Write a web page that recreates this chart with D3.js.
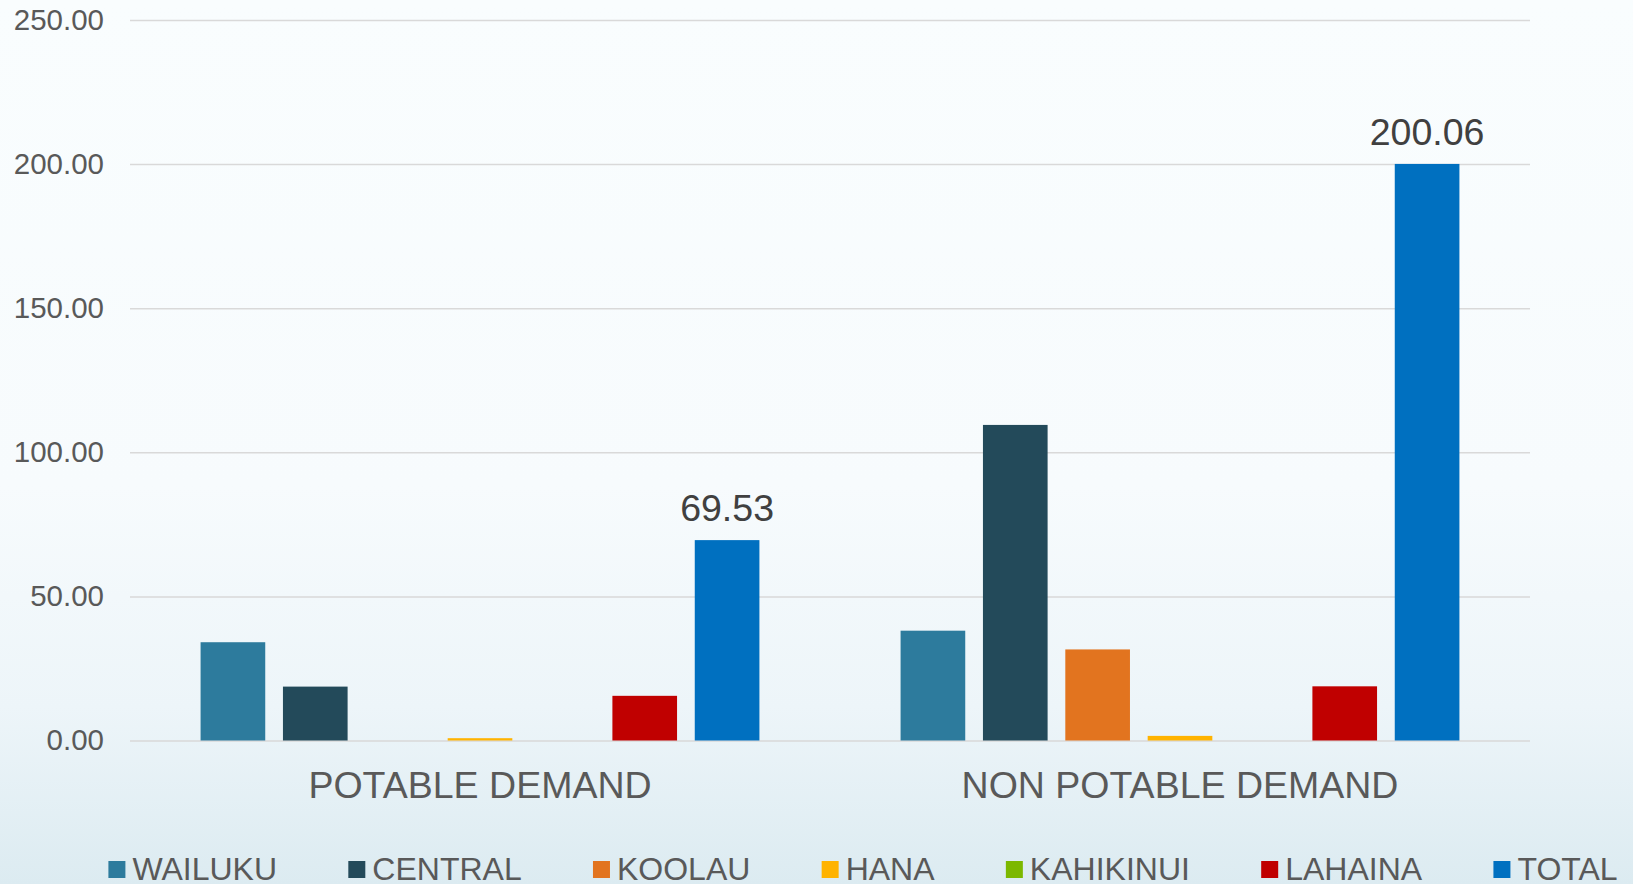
<!DOCTYPE html>
<html>
<head>
<meta charset="utf-8">
<script src="https://cdn.jsdelivr.net/npm/d3@7"></script>
<style>
  html, body { margin: 0; padding: 0; }
  body { width: 1633px; height: 884px; overflow: hidden; }
  svg { display: block; font-family: "Liberation Sans", Arial, sans-serif; }
</style>
</head>
<body>
<svg id="chart" width="1633" height="884"></svg>
<script>
const categories = ["POTABLE DEMAND", "NON POTABLE DEMAND"];
const seriesNames = ["WAILUKU", "CENTRAL", "KOOLAU", "HANA", "KAHIKINUI", "LAHAINA", "TOTAL"];
const seriesColors = ["#2D7B9D", "#234A5A", "#E2741F", "#FFB300", "#7CB800", "#C00000", "#0070C0"];
const wailuku   = [34.1, 38.1];
const central   = [18.7, 109.5];
const koolau    = [0, 31.6];
const hana      = [0.8, 1.6];
const kahikinui = [0, 0];
const lahaina   = [15.5, 18.8];
const total     = [69.53, 200.06];
const yTicks = [0, 50, 100, 150, 200, 250];
const seriesValues = [wailuku, central, koolau, hana, kahikinui, lahaina, total];

const svg = d3.select("#chart");
const W = 1633, H = 884;

// background gradient
const defs = svg.append("defs");
const grad = defs.append("linearGradient").attr("id", "bg").attr("x1", 0).attr("y1", 0).attr("x2", 0).attr("y2", 1);
grad.append("stop").attr("offset", "0%").attr("stop-color", "#F9FDFE");
grad.append("stop").attr("offset", "55%").attr("stop-color", "#F7FBFD");
grad.append("stop").attr("offset", "80%").attr("stop-color", "#EDF5F9");
grad.append("stop").attr("offset", "100%").attr("stop-color", "#DCEBF1");
svg.append("rect").attr("width", W).attr("height", H).attr("fill", "url(#bg)");

const plot = { left: 130, right: 1530, top: 20, bottom: 740.5 };

const y = d3.scaleLinear().domain([0, 250]).range([plot.bottom, plot.top]);
const x0 = d3.scaleBand().domain(categories).range([plot.left, plot.right]).padding(0);
const x1 = d3.scaleBand().domain(seriesNames).range([0, x0.bandwidth()])
  .paddingInner(0.215).paddingOuter(0.857);

// gridlines + y labels via axis
const yAxis = d3.axisLeft(y).tickValues(yTicks).tickFormat(d3.format(".2f"))
  .tickSize(-(plot.right - plot.left)).tickPadding(26);
const gy = svg.append("g").attr("transform", `translate(${plot.left},0)`).call(yAxis);
gy.select(".domain").remove();
gy.selectAll(".tick line").attr("stroke", "#D9D9D9").attr("stroke-width", 1.5);
gy.selectAll(".tick text").attr("fill", "#595959").attr("font-size", 29.5)
  .attr("font-family", "Liberation Sans, Arial, sans-serif");

// bars
const data = [];
categories.forEach((c, ci) => {
  seriesNames.forEach((s, si) => {
    data.push({ cat: c, series: s, value: seriesValues[si][ci], color: seriesColors[si] });
  });
});
svg.append("g").selectAll("rect").data(data.filter(d => d.value > 0)).join("rect")
  .attr("x", d => x0(d.cat) + x1(d.series))
  .attr("width", x1.bandwidth())
  .attr("y", d => y(d.value))
  .attr("height", d => y(0) - y(d.value))
  .attr("fill", d => d.color);

// data labels on TOTAL
svg.append("g").selectAll("text").data(data.filter(d => d.series === "TOTAL")).join("text")
  .attr("x", d => x0(d.cat) + x1(d.series) + x1.bandwidth() / 2)
  .attr("y", d => y(d.value) - 19)
  .attr("text-anchor", "middle")
  .attr("font-size", 37.5)
  .attr("fill", "#404040")
  .text(d => d3.format(".2f")(d.value));

// category axis labels
const xAxis = d3.axisBottom(x0).tickSize(0).tickPadding(0);
const gx = svg.append("g").attr("transform", `translate(0,${plot.bottom})`).call(xAxis);
gx.select(".domain").remove();
gx.selectAll(".tick text").attr("fill", "#595959").attr("font-size", 37.5)
  .attr("font-family", "Liberation Sans, Arial, sans-serif")
  .attr("dy", null).attr("y", 57);

// legend
const legend = svg.append("g");
const items = legend.selectAll("g").data(seriesNames).join("g");
items.append("rect").attr("width", 17).attr("height", 17).attr("y", 861)
  .attr("fill", (d, i) => seriesColors[i]);
items.append("text").attr("x", 24).attr("y", 880).attr("font-size", 32)
  .attr("fill", "#595959").text(d => d);
let widths = [];
items.each(function() { widths.push(d3.select(this).select("text").node().getComputedTextLength()); });
const gap = 71.3;
const totalW = d3.sum(widths.map(w => 24 + w)) + gap * (widths.length - 1);
let cx = 863 - totalW / 2;
items.each(function(d, i) {
  d3.select(this).attr("transform", `translate(${cx},0)`);
  cx += 24 + widths[i] + gap;
});
</script>
</body>
</html>
